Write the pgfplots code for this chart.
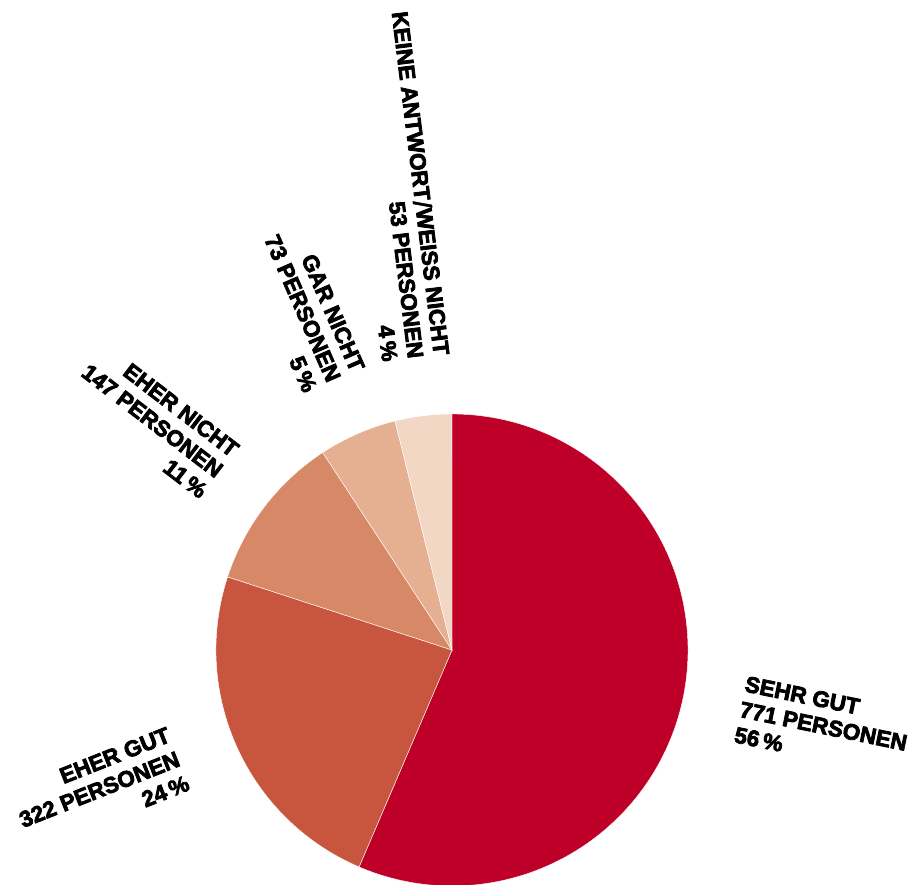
\documentclass[border=0pt]{standalone}
\usepackage{pgfplots}
\pgfplotsset{compat=1.18}
\usepackage{fontspec}
\setmainfont{Liberation Sans}[BoldFeatures={FakeBold=3.5}]
\newfontfamily\dvsans{DejaVu Sans}[BoldFeatures={FakeBold=2}]
\definecolor{cA}{HTML}{BE0028}
\definecolor{cB}{HTML}{C8553E}
\definecolor{cC}{HTML}{D68867}
\definecolor{cD}{HTML}{E5B091}
\definecolor{cE}{HTML}{F2D8C4}
\begin{document}
\begin{tikzpicture}
% values (persons)
\def\vA{771}\def\vB{322}\def\vC{147}\def\vD{73}\def\vE{53}
\pgfmathsetmacro{\tot}{\vA+\vB+\vC+\vD+\vE}
\pgfmathsetmacro{\aA}{90}
\pgfmathsetmacro{\aB}{\aA-360*(\vA/\tot)}
\pgfmathsetmacro{\aC}{\aB-360*(\vB/\tot)}
\pgfmathsetmacro{\aD}{\aC-360*(\vC/\tot)}
\pgfmathsetmacro{\aE}{\aD-360*(\vD/\tot)}
\pgfmathsetmacro{\aF}{\aE-360*(\vE/\tot)}
\pgfmathsetmacro{\mA}{(\aA+\aB)/2}
\pgfmathsetmacro{\mB}{(\aB+\aC)/2-2.8}
\pgfmathsetmacro{\mC}{(\aC+\aD)/2}
\pgfmathsetmacro{\mD}{(\aD+\aE)/2}
\pgfmathsetmacro{\mE}{(\aE+\aF)/2}
\pgfmathsetmacro{\rB}{\mB+180}
\pgfmathsetmacro{\rC}{\mC+180}
\pgfmathsetmacro{\rD}{\mD+180}
\pgfmathsetmacro{\rE}{\mE+180}
\begin{axis}[x=1pt,y=1pt,xmin=0,xmax=914,ymin=0,ymax=885,hide axis,clip=false,
  at={(0,0)},anchor=south west]
\fill[cA,draw=white,line width=0.4pt] (axis cs:452,235) -- ++(\aA:236pt) arc[start angle=\aA,end angle=\aB,radius=236pt] -- cycle;
\fill[cB,draw=white,line width=0.4pt] (axis cs:452,235) -- ++(\aB:236pt) arc[start angle=\aB,end angle=\aC,radius=236pt] -- cycle;
\fill[cC,draw=white,line width=0.4pt] (axis cs:452,235) -- ++(\aC:236pt) arc[start angle=\aC,end angle=\aD,radius=236pt] -- cycle;
\fill[cD,draw=white,line width=0.4pt] (axis cs:452,235) -- ++(\aD:236pt) arc[start angle=\aD,end angle=\aE,radius=236pt] -- cycle;
\fill[cE,draw=white,line width=0.4pt] (axis cs:452,235) -- ++(\aE:236pt) arc[start angle=\aE,end angle=\aF,radius=236pt] -- cycle;
\tikzset{lab/.style={inner sep=0pt,font=\fontsize{22.5}{26}\selectfont\bfseries}}
\path (axis cs:452,235) ++(\mA:294pt) node[lab,anchor=west,align=left,rotate=\mA] {SEHR GUT\\771 PERSONEN\\56\,\%};
\path (axis cs:452,235) ++(\mB:294pt) node[lab,anchor=east,align=right,rotate=\rB] {EHER GUT\\322 PERSONEN\\24\,\%};
\path (axis cs:452,235) ++(\mC:292pt) node[lab,anchor=east,align=right,rotate=\rC] {EHER NICHT\\147 PERSONEN\\11\,\%};
\path (axis cs:452,235) ++(\mD:294pt) node[lab,anchor=east,align=right,rotate=\rD] {GAR NICHT\\73 PERSONEN\\5\,\%};
\path (axis cs:452,235) ++(\mE:294pt) node[lab,anchor=east,align=right,rotate=\rE] {KEINE ANTWORT{\dvsans\bfseries /}WEISS NICHT\\53 PERSONEN\\4\,\%};
\end{axis}
\pgfresetboundingbox
\path (0,0) rectangle (914pt,885pt);
\end{tikzpicture}
\end{document}
